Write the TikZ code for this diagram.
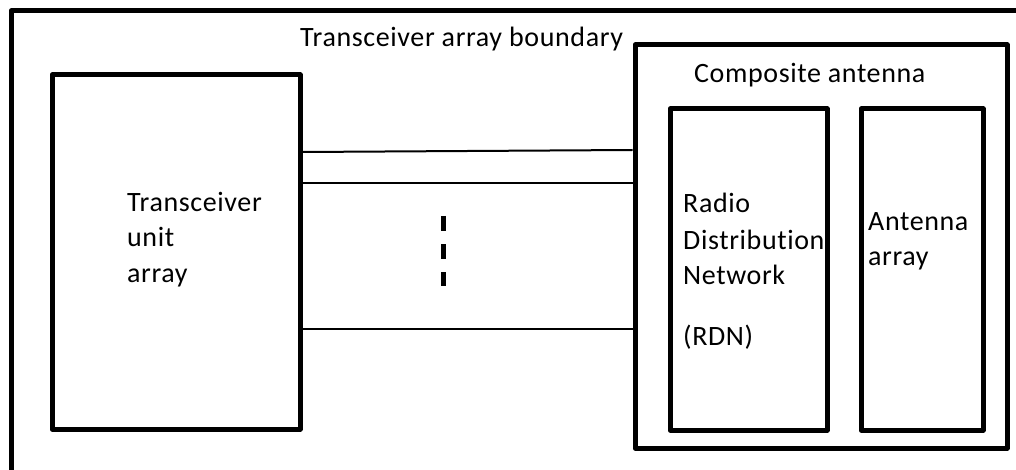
\documentclass[tikz,border=0pt]{standalone}
\usepackage{fontspec}
\setmainfont[LetterSpace=2.2,Ligatures=NoCommon]{Carlito}
\usepackage{xcolor}
\usepackage{tikz}
\usetikzlibrary{calc}
\definecolor{bg}{HTML}{FFFFFF}
\definecolor{ink}{HTML}{000000}
\tikzset{
  blk/.style={draw=ink, line width=5pt, line join=round, rectangle, inner sep=0pt},
  wire/.style={draw=ink, line width=2pt},
  gap/.style={draw=ink, line width=5pt, dash pattern=on 15pt off 13pt},
  lab/.style={text=ink, font=\fontsize{28}{34}\selectfont, anchor=base west, inner sep=0pt}
}
\begin{document}
\begin{tikzpicture}[x=1pt,y=-1pt]
  \useasboundingbox[fill=bg] (0,0) rectangle (1016,470);
  % outer boundary, runs off the page
  \coordinate (bl) at (11,470);
  \coordinate (tl) at (11,11);
  \coordinate (tr) at (1016,11);
  \draw[blk] (bl) -- (tl) -- (tr);
  \node[lab] (bnd) at (300,47) {Transceiver array boundary};
  % boxes
  \node[blk, minimum width=248pt, minimum height=354pt] (tua) at (176,252) {};
  \node[blk, minimum width=372pt, minimum height=403pt] (comp) at (821,246.5) {};
  \node[blk, minimum width=157pt, minimum height=321pt] (rdn) at (748.5,269.5) {};
  \node[blk, minimum width=122pt, minimum height=321pt] (ant) at (922,269.5) {};
  % labels
  \node[lab] (tua1) at (127,212) {Transceiver};
  \node[lab] (tua2) at (127,247) {unit};
  \node[lab] (tua3) at (127,282) {array};
  \node[lab] (compl) at (694,83) {Composite antenna};
  \node[lab] (rdn1) at (683,213) {Radio};
  \node[lab] (rdn2) at (683,249) {Distribution};
  \node[lab] (rdn3) at (683,284) {Network};
  \node[lab] (rdn4) at (683,345) {(RDN)};
  \node[lab] (ant1) at (868,231) {Antenna};
  \node[lab] (ant2) at (868,265) {array};
  % links
  \draw[wire] (tua.east |- 0,152) -- (comp.west |- 0,150);
  \draw[wire] (tua.east |- 0,183) -- (comp.west |- 0,183);
  \draw[wire] (tua.east |- 0,329) -- (comp.west |- 0,329);
  \coordinate (d1) at (443,216);
  \coordinate (d2) at (443,286);
  \draw[gap] (d1) -- (d2);
\end{tikzpicture}
\end{document}
